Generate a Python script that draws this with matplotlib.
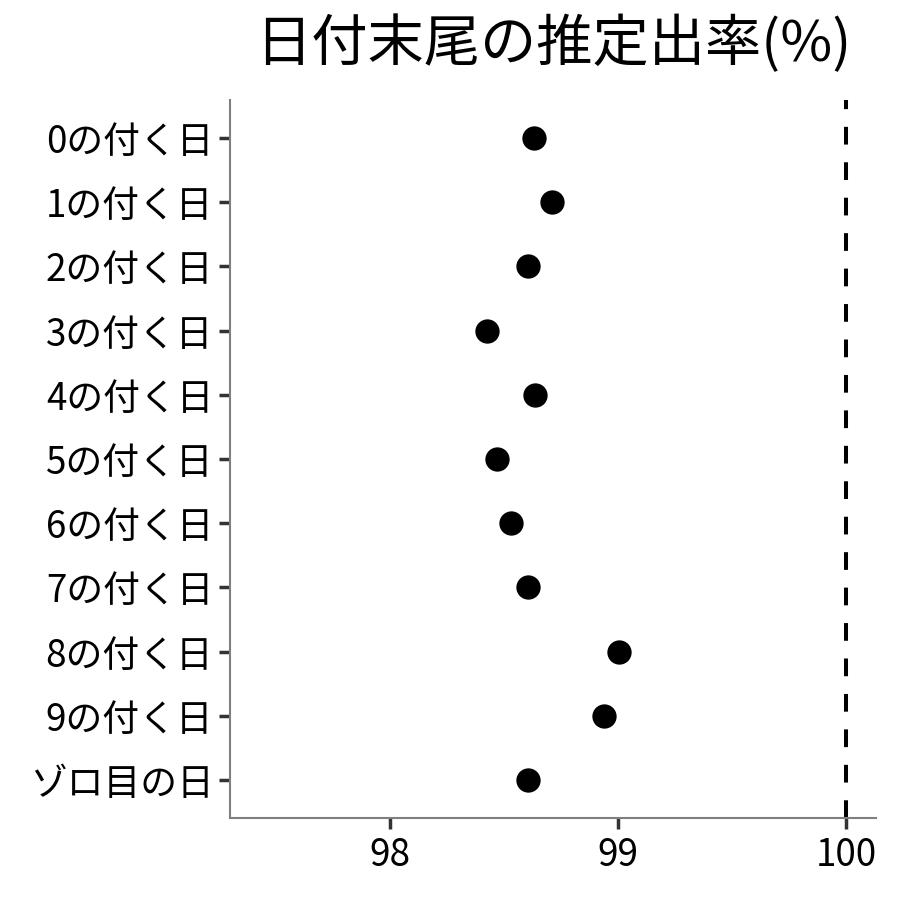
import matplotlib
matplotlib.use("Agg")
import matplotlib.pyplot as plt

plt.rcParams['font.family'] = ['Noto Sans CJK JP', 'DejaVu Sans']

categories = ["0の付く日", "1の付く日", "2の付く日", "3の付く日", "4の付く日",
              "5の付く日", "6の付く日", "7の付く日", "8の付く日", "9の付く日", "ゾロ目の日"]
values = [98.63, 98.71, 98.605, 98.425, 98.636, 98.47, 98.53, 98.605, 99.005, 98.94, 98.605]
xticks = [98, 99, 100]
title = "日付末尾の推定出率(%)"

fig = plt.figure(figsize=(9, 9), dpi=100)
ax = fig.add_axes([230/900, 82/900, 646/900, 718/900])

n = len(categories)
ypos = [n - 1 - i for i in range(n)]
ax.plot(values, ypos, 'o', color='black', markersize=17.5, markeredgewidth=0)
ax.axvline(100, color='black', lw=2.9, ls=(0, (4.4, 4.4)))

ax.set_xlim(97.30, 100.13)
ax.set_ylim(-0.59, n - 1 + 0.59)
ax.set_yticks(ypos)
ax.set_yticklabels(categories)
ax.set_xticks(xticks)
ax.set_xticklabels([str(x) for x in xticks])

for s in ['top', 'right']:
    ax.spines[s].set_visible(False)
for s in ['left', 'bottom']:
    ax.spines[s].set_color('#7f7f7f')
    ax.spines[s].set_linewidth(1.5)

ax.tick_params(axis='both', length=8, width=2.5, color='#333333', labelsize=26.5, labelcolor='black')
ax.tick_params(axis='y', pad=4)
ax.tick_params(axis='x', pad=5)

fig.text((230 + 876) / 2 / 900, 1 - 45/900, title, ha='center', va='center', fontsize=40.5)

fig.savefig("out.png", dpi=100)
